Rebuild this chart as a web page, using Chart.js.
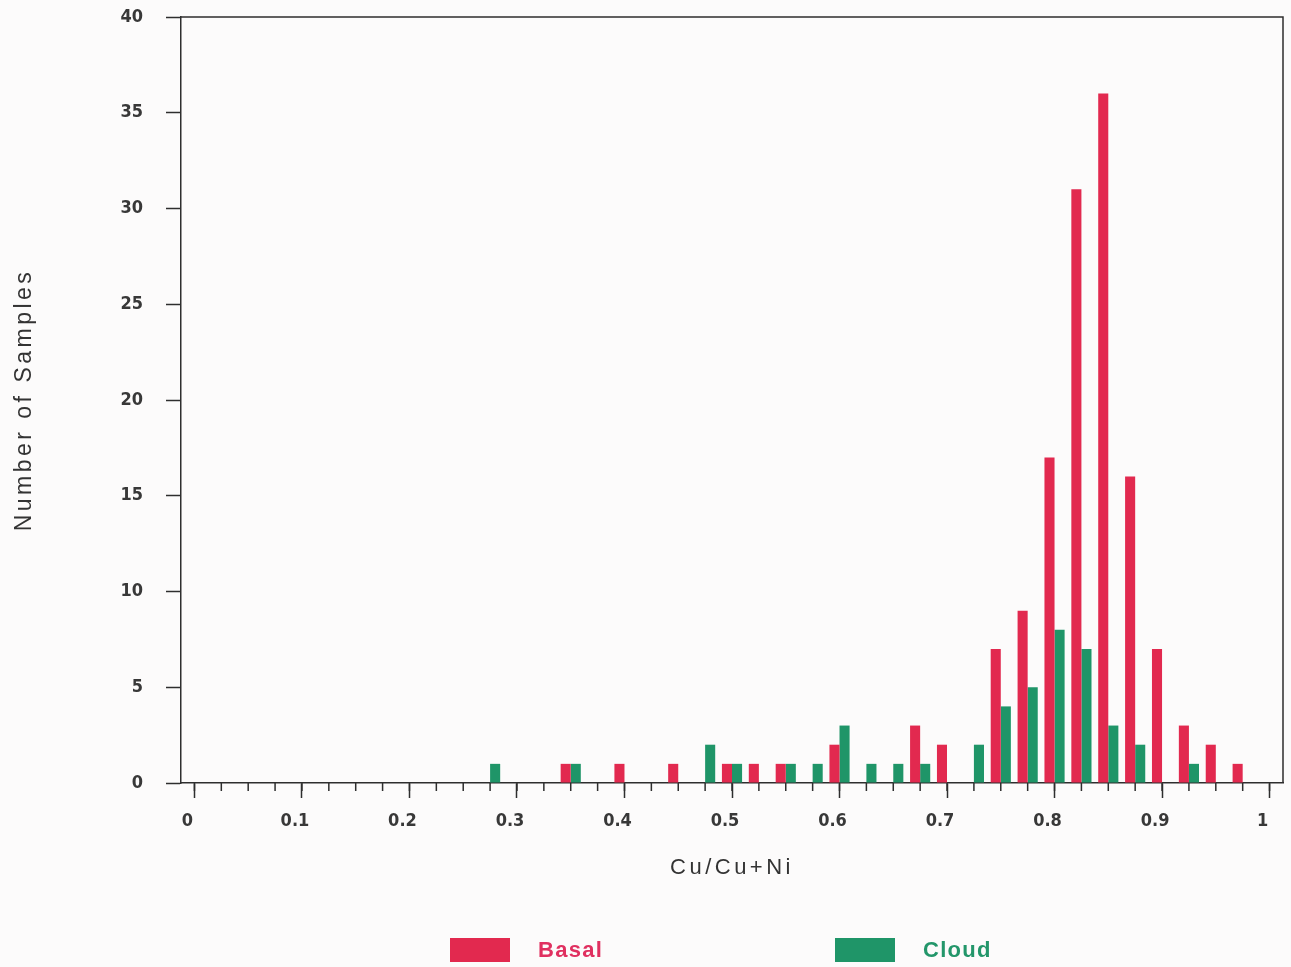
<!DOCTYPE html>
<html>
<head>
<meta charset="utf-8">
<title>Cu/Cu+Ni histogram</title>
<script src="https://cdn.jsdelivr.net/npm/chart.js@4/dist/chart.umd.min.js"></script>
<style>
  body { margin: 0; background: #fcfbfb; }
  #wrap { position: relative; width: 1291px; height: 967px; }
  #legend { position: absolute; left: 0; top: 938px; width: 1291px; height: 26px; }
  .item { position: absolute; top: 0; height: 24px; display: flex; align-items: center; }
  .swatch { width: 60px; height: 24px; margin-right: 28px; }
  .label { font: 600 22px "Liberation Sans", Arial, sans-serif; letter-spacing: 1.3px; }
</style>
</head>
<body>
<div id="wrap">
  <canvas id="chart"></canvas>
  <div id="legend"></div>
</div>
<script>
// bin positions on the Cu/Cu+Ni axis (step 0.025)
const bins = ['0', '0.025', '0.05', '0.075', '0.1', '0.125', '0.15', '0.175', '0.2', '0.225',
  '0.25', '0.275', '0.3', '0.325', '0.35', '0.375', '0.4', '0.425', '0.45', '0.475',
  '0.5', '0.525', '0.55', '0.575', '0.6', '0.625', '0.65', '0.675', '0.7', '0.725',
  '0.75', '0.775', '0.8', '0.825', '0.85', '0.875', '0.9', '0.925', '0.95', '0.975', '1'];

// number of samples in each bin
const basal = [0, 0, 0, 0, 0, 0, 0, 0, 0, 0,
  0, 0, 0, 0, 1, 0, 1, 0, 1, 0,
  1, 1, 1, 0, 2, 0, 0, 3, 2, 0,
  7, 9, 17, 31, 36, 16, 7, 3, 2, 1, 0];
const cloud = [0, 0, 0, 0, 0, 0, 0, 0, 0, 0,
  0, 1, 0, 0, 1, 0, 0, 0, 0, 2,
  1, 0, 1, 1, 3, 1, 1, 1, 0, 2,
  4, 5, 8, 7, 3, 2, 0, 1, 0, 0, 0];

const xTickLabels = ['0', '0.1', '0.2', '0.3', '0.4', '0.5', '0.6', '0.7', '0.8', '0.9', '1'];
const seriesNames = ['Basal', 'Cloud'];
const seriesColors = ['#e2294f', '#1f9568'];
const legendText = ['#e03060', '#23966a'];

const axisColor = '#2e2e2e';
const tickFont = { family: '"DejaVu Sans Condensed", "DejaVu Sans", sans-serif', size: 18, weight: 'bold' };
const titleFont = '"Liberation Sans", Arial, sans-serif';

// frame, minor ticks and letter spacing for the axis titles
const framePlugin = {
  id: 'framePlugin',
  beforeDraw(chart) { chart.ctx.letterSpacing = '3.5px'; },
  beforeDatasetsDraw(chart) { chart.ctx.letterSpacing = '0px'; },
  afterDraw(chart) {
    const { ctx, chartArea: a, scales: { x } } = chart;
    ctx.save();
    ctx.strokeStyle = axisColor;
    ctx.lineWidth = 1.5;
    ctx.beginPath();
    ctx.moveTo(a.left, a.top);
    ctx.lineTo(a.right, a.top);
    ctx.lineTo(a.right, a.bottom);
    x.ticks.forEach((t, i) => {
      const px = x.getPixelForTick(i);
      ctx.moveTo(px, a.bottom);
      ctx.lineTo(px, a.bottom + 8);
    });
    ctx.stroke();
    ctx.restore();
  }
};

new Chart(document.getElementById('chart'), {
  type: 'bar',
  data: {
    labels: bins,
    datasets: [
      { label: seriesNames[0], data: basal, backgroundColor: seriesColors[0] },
      { label: seriesNames[1], data: cloud, backgroundColor: seriesColors[1] }
    ]
  },
  options: {
    responsive: true,
    maintainAspectRatio: false,
    animation: false,
    categoryPercentage: 0.75,
    barPercentage: 1.0,
    layout: { padding: { top: 17, right: 8, left: 0, bottom: 74 } },
    plugins: { legend: { display: false }, tooltip: { enabled: false } },
    scales: {
      x: {
        offset: true,
        afterFit: (s) => { s.height = 110; s.paddingLeft = 0; s.paddingRight = 0; },
        grid: {
          offset: false,
          drawOnChartArea: false,
          tickLength: 15,
          tickWidth: 1.5,
          tickColor: (c) => xTickLabels.includes(bins[c.index]) ? axisColor : 'rgba(0,0,0,0)'
        },
        border: { color: axisColor, width: 1.5 },
        ticks: {
          z: 1,
          autoSkip: false,
          maxRotation: 0,
          padding: 13,
          labelOffset: -7,
          color: '#383838',
          font: tickFont,
          callback: function (value) {
            const lbl = this.getLabelForValue(value);
            return xTickLabels.includes(lbl) ? lbl : '';
          }
        },
        title: {
          display: true,
          text: 'Cu/Cu+Ni',
          color: '#333333',
          font: { family: titleFont, size: 22 },
          padding: { top: 0, bottom: 12 }
        }
      },
      y: {
        min: 0,
        max: 40,
        afterFit: (s) => { s.width = 181; s.paddingTop = 0; s.paddingBottom = 0; },
        grid: { drawOnChartArea: false, tickLength: 15, tickWidth: 1.5, tickColor: axisColor },
        border: { color: axisColor, width: 1.5 },
        ticks: { z: 1, stepSize: 5, padding: 23, color: '#383838', font: tickFont },
        title: {
          display: true,
          text: 'Number of Samples',
          color: '#333333',
          font: { family: titleFont, size: 23 },
          padding: { top: 11, bottom: 0 }
        }
      }
    }
  },
  plugins: [framePlugin]
});

// legend below the chart
const legendLeft = [450, 835];
const legend = document.getElementById('legend');
seriesNames.forEach((name, i) => {
  const item = document.createElement('div');
  item.className = 'item';
  item.style.left = legendLeft[i] + 'px';
  item.innerHTML = '<span class="swatch" style="background:' + seriesColors[i] + '"></span>' +
    '<span class="label" style="color:' + legendText[i] + '">' + name + '</span>';
  legend.appendChild(item);
});
</script>
</body>
</html>
